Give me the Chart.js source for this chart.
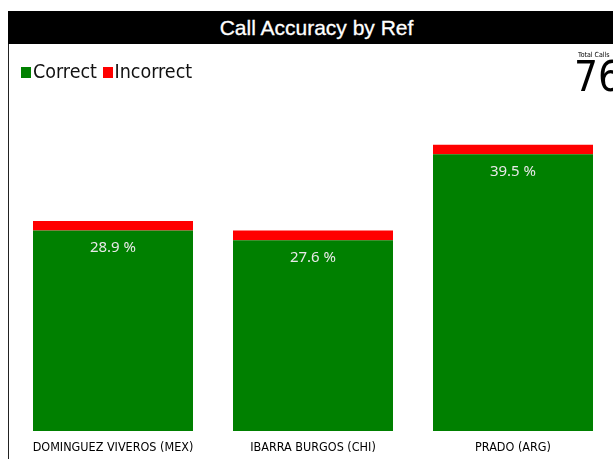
<!DOCTYPE html>
<html>
<head>
<meta charset="utf-8">
<script src="https://cdn.jsdelivr.net/npm/chart.js@4"></script>
<style>
  body { margin: 0; background: #fff; overflow: hidden; }
  #frame { position: absolute; left: 8px; top: 11px; width: 1px; height: 460px; background: #222; }
  #title { position: absolute; left: 8px; top: 11px; width: 617px; height: 33px; background: #000; color: #fff;
    font: 21px "Liberation Sans", Arial, sans-serif; text-align: center; line-height: 33px; -webkit-text-stroke: 0.3px #fff; }
  #legend { position: absolute; left: 21px; top: 60px; font: 19.5px "DejaVu Sans Condensed", "DejaVu Sans", sans-serif; color: #111; white-space: nowrap; }
  #legend span.box { display: inline-block; width: 10px; height: 11px; margin-right: 2px; }
  #total { position: absolute; left: 574px; top: 51px; width: 60px; color: #000; font-family: "DejaVu Sans Condensed", sans-serif; }
  #total .lbl { font-size: 7px; padding-left: 4px; }
  #total .num { font-size: 42px; line-height: 36px; }
  #wrap { position: absolute; left: 10px; top: 44px; width: 603px; height: 420px; }
</style>
</head>
<body>
<div id="wrap"><canvas id="chart"></canvas></div>
<div id="frame"></div>
<div id="title">Call Accuracy by Ref</div>
<div id="legend"></div>
<div id="total"><div class="lbl">Total Calls</div><div class="num"></div></div>
<script>
  var refs = ["DOMINGUEZ VIVEROS (MEX)", "IBARRA BURGOS (CHI)", "PRADO (ARG)"];
  var correct = [21, 20, 29];
  var incorrect = [1, 1, 1];
  var totalCalls = 76;

  var green = "#008000";
  var red = "#ff0000";

  document.querySelector("#total .num").textContent = totalCalls;
  document.getElementById("legend").innerHTML =
    '<span class="box" style="background:' + green + '"></span>Correct ' +
    '<span class="box" style="background:' + red + '"></span>Incorrect';

  // percent label inside top of each green bar
  var pctLabels = {
    id: "pctLabels",
    afterDatasetsDraw: function (chart) {
      var c = chart.ctx;
      var meta = chart.getDatasetMeta(0);
      c.save();
      c.fillStyle = "#e8e8e8";
      c.font = '15px "Noto Sans", "DejaVu Sans", sans-serif';
      c.textAlign = "center";
      c.textBaseline = "top";
      meta.data.forEach(function (bar, i) {
        var pct = (correct[i] + incorrect[i]) / totalCalls * 100;
        c.fillText(pct.toFixed(1) + " %", bar.x, bar.y + 10);
      });
      c.restore();
    }
  };

  new Chart(document.getElementById("chart"), {
    type: "bar",
    data: {
      labels: refs,
      datasets: [
        { label: "Correct", data: correct, backgroundColor: green, borderWidth: 0 },
        { label: "Incorrect", data: incorrect, backgroundColor: red, borderWidth: 0 }
      ]
    },
    options: {
      responsive: true,
      maintainAspectRatio: false,
      animation: false,
      barPercentage: 0.8,
      categoryPercentage: 1,
      layout: { padding: { top: 53, left: 3, right: 0, bottom: 0 } },
      plugins: {
        legend: { display: false },
        tooltip: { enabled: false }
      },
      scales: {
        x: {
          stacked: true,
          grid: { display: false, drawTicks: false },
          border: { display: false },
          ticks: {
            color: "#000",
            padding: 9,
            maxRotation: 0,
            autoSkip: false,
            font: { size: 12.5, family: '"DejaVu Sans Condensed", "DejaVu Sans", sans-serif' }
          }
        },
        y: {
          stacked: true,
          display: false,
          min: 0,
          max: 35
        }
      }
    },
    plugins: [pctLabels]
  });
</script>
</body>
</html>
